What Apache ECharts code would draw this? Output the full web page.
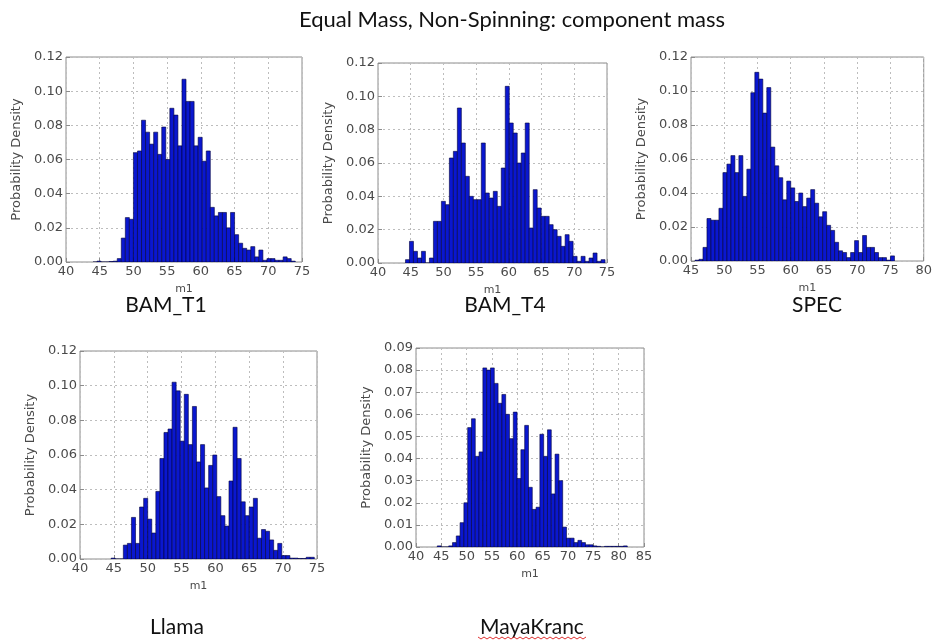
<!DOCTYPE html>
<html>
<head>
<meta charset="utf-8">
<title>Equal Mass, Non-Spinning: component mass</title>
<script src="https://cdn.jsdelivr.net/npm/echarts@6/dist/echarts.min.js"></script>
<style>
    html, body {margin: 0; padding: 0; background: #fff;}
    #chart {width: 935px; height: 643px;}
</style>
</head>
<body>
<div id="chart"></div>
<script>
// histogram heights per run, bins of equal width starting at *Start
var t1Start = 44.0, t1Width = 0.6;
var t1Heights = [0, 0.0005, 0, 0, 0.0003, 0.0005, 0.002, 0.014, 0.026, 0.025,
    0.064, 0.065, 0.083, 0.076, 0.069, 0.076, 0.063, 0.079, 0.060, 0.090,
    0.086, 0.068, 0.107, 0.094, 0.094, 0.068, 0.073, 0.059, 0.065, 0.032,
    0.027, 0.029, 0.029, 0.020, 0.029, 0.016, 0.011, 0.008, 0.007, 0.009,
    0.003, 0.007, 0.001, 0.002, 0.002, 0.001, 0.001, 0.003, 0.002, 0.0005];

var t4Start = 44.2, t4Width = 0.61;
var t4Heights = [0.002, 0.013, 0.007, 0.003, 0.007, 0, 0.003, 0.025, 0.025, 0.037,
    0.035, 0.063, 0.067, 0.093, 0.072, 0.052, 0.040, 0.038, 0.038, 0.072,
    0.042, 0.039, 0.043, 0.034, 0.057, 0.106, 0.084, 0.078, 0.060, 0.066,
    0.084, 0.021, 0.044, 0.033, 0.028, 0.028, 0.023, 0.020, 0.016, 0.010,
    0.017, 0.013, 0.004, 0.001, 0.004, 0.001, 0.003, 0.006, 0.001, 0.002];

var specStart = 45.6, specWidth = 0.6;
var specHeights = [0.0005, 0.001, 0.008, 0.025, 0.024, 0.024, 0.031, 0.052, 0.057, 0.062,
    0.052, 0.062, 0.038, 0.054, 0.099, 0.111, 0.107, 0.087, 0.102, 0.067,
    0.056, 0.049, 0.036, 0.047, 0.043, 0.035, 0.040, 0.032, 0.037, 0.042,
    0.034, 0.026, 0.029, 0.021, 0.018, 0.011, 0.006, 0.005, 0.002, 0.005,
    0.012, 0.005, 0.015, 0.008, 0.008, 0.005, 0.002, 0.002, 0.0005, 0.003];

var llamaStart = 44.6, llamaWidth = 0.6;
var llamaHeights = [0.0005, 0, 0, 0.008, 0.009, 0.024, 0.009, 0.030, 0.035, 0.023,
    0.015, 0.039, 0.058, 0.073, 0.075, 0.102, 0.097, 0.068, 0.095, 0.066,
    0.088, 0.056, 0.066, 0.041, 0.054, 0.060, 0.036, 0.025, 0.019, 0.045,
    0.076, 0.058, 0.033, 0.025, 0.030, 0.035, 0.012, 0.017, 0.016, 0.011,
    0.005, 0.009, 0.002, 0.002, 0.0005, 0.0005, 0.0003, 0.0003, 0.001, 0.001];

var mayaStart = 44.2, mayaWidth = 0.75;
var mayaHeights = [0.0005, 0, 0, 0.0005, 0.002, 0.005, 0.011, 0.020, 0.054, 0.058,
    0.041, 0.043, 0.081, 0.080, 0.081, 0.074, 0.065, 0.069, 0.060, 0.049,
    0.061, 0.031, 0.044, 0.055, 0.027, 0.017, 0.018, 0.051, 0.041, 0.053,
    0.024, 0.042, 0.030, 0.009, 0.004, 0.004, 0.002, 0.003, 0.002, 0.001,
    0.001, 0.0005, 0.0003, 0, 0.0003, 0.0003, 0.0003, 0.0003, 0.0003, 0.0005];

var panelNames = ["BAM_T1", "BAM_T4", "SPEC", "Llama", "MayaKranc"];

(function () {
    var textColor = "#4a4a4a", tickFont = "DejaVu Sans";

    // plot boxes
    var panels = [
        {left: 66, top: 57, width: 236, height: 205, xMin: 40, xMax: 75, yMax: 0.12, yStep: 0.02,
            start: t1Start, binW: t1Width, heights: t1Heights},
        {left: 378, top: 63, width: 229, height: 200, xMin: 40, xMax: 75, yMax: 0.12, yStep: 0.02,
            start: t4Start, binW: t4Width, heights: t4Heights},
        {left: 691, top: 57, width: 235, height: 204, xMin: 45, xMax: 80, yMax: 0.12, yStep: 0.02,
            start: specStart, binW: specWidth, heights: specHeights},
        {left: 80, top: 351, width: 237, height: 208, xMin: 40, xMax: 75, yMax: 0.12, yStep: 0.02,
            start: llamaStart, binW: llamaWidth, heights: llamaHeights},
        {left: 416, top: 348, width: 228, height: 199, xMin: 40, xMax: 85, yMax: 0.09, yStep: 0.01,
            start: mayaStart, binW: mayaWidth, heights: mayaHeights}
    ];
    // where the run names sit under each plot
    var labelPos = [[166, 305], [505, 305], [817, 305], [177, 627], [532, 627]];

    var grids = [], xAxes = [], yAxes = [], series = [], graphics = [];

    var renderBar = function (params, api) {
        var p0 = api.coord([api.value(0), 0]);
        var p1 = api.coord([api.value(1), api.value(2)]);
        return {
            type: "rect",
            shape: {x: p0[0], y: p1[1], width: p1[0] - p0[0], height: p0[1] - p1[1]},
            style: {fill: "#0a17cf", stroke: "#00003a", lineWidth: 0.6}
        };
    };

    for (var i = 0; i < panels.length; i++) {
        var pn = panels[i];
        grids.push({
            left: pn.left, top: pn.top, width: pn.width, height: pn.height,
            show: true, borderColor: "#8c8c8c", borderWidth: 1, backgroundColor: "transparent"
        });
        xAxes.push({
            type: "value", gridIndex: i, min: pn.xMin, max: pn.xMax, interval: 5,
            name: "m1", nameLocation: "middle", nameGap: 22,
            nameTextStyle: {color: textColor, fontSize: 11, fontFamily: tickFont},
            axisLine: {show: false},
            axisTick: {show: true, inside: true, length: 4, lineStyle: {color: "#8c8c8c"}},
            axisLabel: {color: textColor, fontSize: 13, fontFamily: tickFont, margin: 3},
            splitLine: {show: true, lineStyle: {color: "#bdbdbd", type: [2, 3], width: 1}}
        });
        yAxes.push({
            type: "value", gridIndex: i, min: 0, max: pn.yMax, interval: pn.yStep,
            name: "Probability Density", nameLocation: "middle", nameGap: 43,
            nameTextStyle: {color: textColor, fontSize: 13, fontFamily: tickFont},
            axisLine: {show: false},
            axisTick: {show: true, inside: true, length: 4, lineStyle: {color: "#8c8c8c"}},
            axisLabel: {
                color: textColor, fontSize: 13, fontFamily: tickFont, margin: 3,
                formatter: function (v) {
                    return v.toFixed(2);
                }
            },
            splitLine: {show: true, lineStyle: {color: "#bdbdbd", type: [2, 3], width: 1}}
        });
        var rows = [];
        for (var k = 0; k < pn.heights.length; k++) {
            rows.push([pn.start + k * pn.binW, pn.start + (k + 1) * pn.binW, pn.heights[k]]);
        }
        series.push({
            type: "custom", xAxisIndex: i, yAxisIndex: i,
            renderItem: renderBar, data: rows, clip: true, silent: true
        });
        graphics.push({
            type: "text", x: labelPos[i][0], y: labelPos[i][1],
            style: {
                text: panelNames[i], fill: "#111", font: "21px Lato",
                textAlign: "center", textVerticalAlign: "middle"
            }
        });
    }

    // red spell-check squiggle under MayaKranc
    var wave = [];
    for (var w = 0; w <= 36; w++) {
        wave.push([478 + w * 3, 637 + (w % 2 === 0 ? 0 : 2)]);
    }
    graphics.push({
        type: "polyline", shape: {points: wave},
        style: {stroke: "#e03030", lineWidth: 1, fill: null}
    });

    var myChart = echarts.init(document.getElementById("chart"));
    myChart.setOption({
        animation: false,
        title: {
            text: "Equal Mass, Non-Spinning: component mass",
            left: 507, top: 4, textAlign: "center",
            textStyle: {fontFamily: "Lato", fontSize: 22, fontWeight: "normal", color: "#111"}
        },
        grid: grids,
        xAxis: xAxes,
        yAxis: yAxes,
        series: series,
        graphic: graphics
    });
})();
</script>
</body>
</html>
